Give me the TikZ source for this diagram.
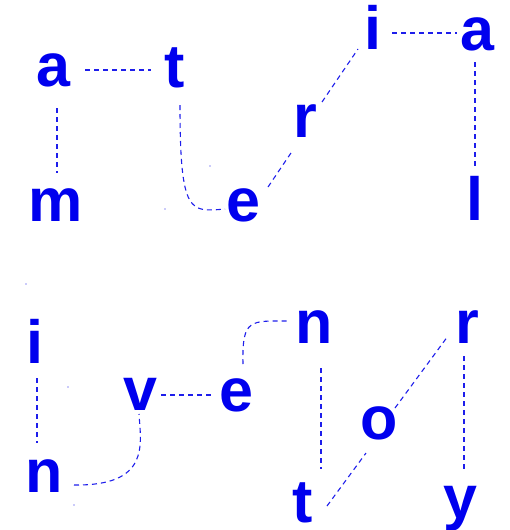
\documentclass[tikz,border=0pt]{standalone}
\usepackage{fontspec}
\setmainfont{Liberation Sans}
\definecolor{ink}{RGB}{0,0,238}
\definecolor{linkc}{RGB}{30,30,235}
\begin{document}
\begin{tikzpicture}[x=1pt,y=-1pt,
  L/.style={inner sep=0pt, anchor=base, text=ink, font=\fontsize{61}{61}\selectfont\bfseries},
  link/.style={draw=linkc, line width=1.1pt, dash pattern=on 5pt off 4pt},
  speck/.style={fill=linkc, draw=none}]
\useasboundingbox (0,0) rectangle (509,530);
% material
\node[L] (m1) at (56,221) {m};
\node[L] (a1) at (53,86) {a};
\node[L] (t1) at (175,87) {t};
\node[L] (e1) at (243,221) {e};
\node[L] (r1) at (305,137) {r};
\node[L] (i1) at (373,49) {i};
\node[L] (a2) at (477,50) {a};
\node[L] (l1) at (475,220) {l};
% inventory
\node[L] (i3) at (35,363) {i};
\node[L] (n2) at (44,492) {n};
\node[L] (v1) at (140,410) {v};
\node[L] (e2) at (236,411) {e};
\node[L] (n3) at (314,343) {n};
\node[L] (t2) at (303,522) {t};
\node[L] (o1) at (379,439) {o};
\node[L] (r2) at (467,343) {r};
\node[L] (y1) at (460,518) {y};
% connectors, top
\draw[link] ([shift={(32,-16)}]a1.base) -- ([shift={(-24,-17)}]t1.base);
\draw[link] ([shift={(4,22)}]a1.base) -- ([shift={(1,-48)}]m1.base);
\draw[link] ([shift={(5,18)}]t1.base) .. controls +(0,110) and +(-35,3) .. ([shift={(-18,-12)}]e1.base);
\draw[link] ([shift={(25,-34)}]e1.base) -- ([shift={(-12,13)}]r1.base);
\draw[link] ([shift={(17,-35)}]r1.base) -- ([shift={(-15,0)}]i1.base);
\draw[link] ([shift={(19,-16)}]i1.base) -- ([shift={(-20,-17)}]a2.base);
\draw[link] ([shift={(-2,12)}]a2.base) -- ([shift={(0,-52)}]l1.base);
% connectors, bottom
\draw[link] ([shift={(2,15)}]i3.base) -- ([shift={(-7,-49)}]n2.base);
\draw[link] ([shift={(30,-7)}]n2.base) .. controls +(76,1) and +(2,31) .. ([shift={(-1,4)}]v1.base);
\draw[link] ([shift={(21,-15)}]v1.base) -- ([shift={(-23,-16)}]e2.base);
\draw[link] ([shift={(7,-47)}]e2.base) .. controls +(-1,-46) and +(-40,0) .. ([shift={(-24,-22)}]n3.base);
\draw[link] ([shift={(7,25)}]n3.base) -- ([shift={(18,-53)}]t2.base);
\draw[link] ([shift={(24,-16)}]t2.base) -- ([shift={(-13,14)}]o1.base);
\draw[link] ([shift={(16,-31)}]o1.base) -- ([shift={(-19,-7)}]r2.base);
\draw[link] ([shift={(-3,13)}]r2.base) -- ([shift={(4,-49)}]y1.base);
% tiny specks
\foreach \p in {(210,166),(165,209),(68,387),(26,284),(74,505)}
  \fill[speck] \p circle (0.7);
\end{tikzpicture}
\end{document}
